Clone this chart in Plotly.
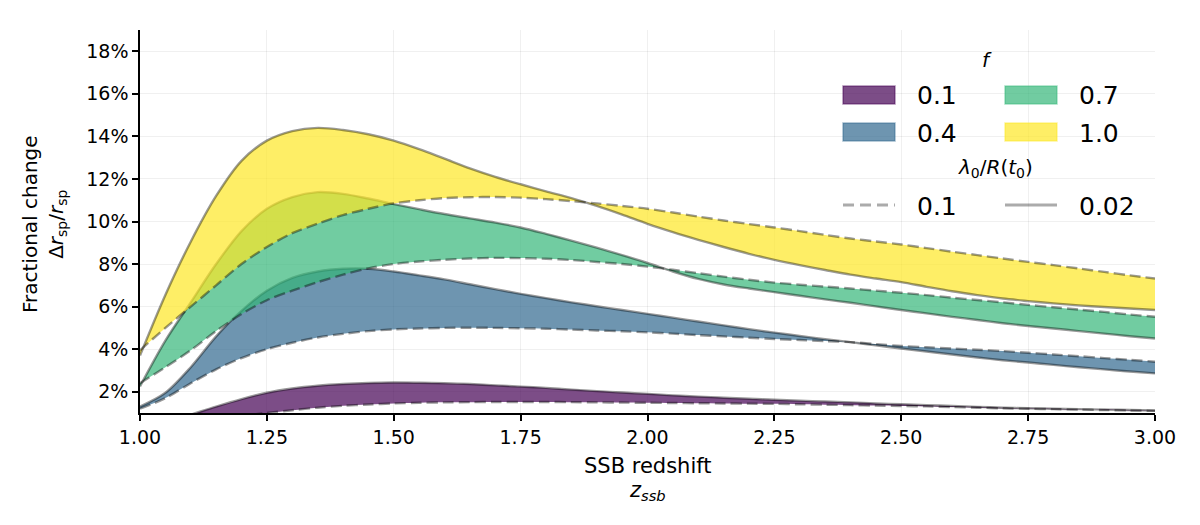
import plotly.graph_objects as go

# ---------------- data (percent) ----------------
z_ssb = [1.0, 1.05, 1.1, 1.15, 1.2, 1.25, 1.3, 1.35, 1.4, 1.45, 1.5, 1.55, 1.6, 1.65, 1.7,
         1.75, 1.8, 1.85, 1.9, 1.95, 2.0, 2.05, 2.1, 2.15, 2.2, 2.25, 2.3, 2.35, 2.4, 2.45,
         2.5, 2.55, 2.6, 2.65, 2.7, 2.75, 2.8, 2.85, 2.9, 2.95, 3.0]

f_values = ["0.1", "0.4", "0.7", "1.0"]

# lambda0/R(t0) = 0.1 (dashed)
f01_lam01 = [0.3, 0.45, 0.6, 0.73, 0.87, 1.0, 1.13, 1.25, 1.34, 1.4, 1.45, 1.48, 1.5, 1.51, 1.52,
             1.52, 1.52, 1.51, 1.5, 1.49, 1.48, 1.47, 1.46, 1.45, 1.44, 1.43, 1.41, 1.39, 1.37, 1.35,
             1.33, 1.31, 1.28, 1.25, 1.22, 1.2, 1.18, 1.16, 1.14, 1.12, 1.1]
f04_lam01 = [1.2, 1.7, 2.4, 3.05, 3.58, 4.0, 4.3, 4.55, 4.72, 4.85, 4.93, 4.97, 5.0, 5.01, 5.0,
             4.98, 4.96, 4.92, 4.88, 4.84, 4.79, 4.73, 4.66, 4.6, 4.54, 4.48, 4.43, 4.38, 4.33, 4.24,
             4.15, 4.09, 4.03, 3.97, 3.91, 3.83, 3.75, 3.67, 3.58, 3.5, 3.41]
f07_lam01 = [2.4, 3.15, 3.95, 4.85, 5.65, 6.3, 6.75, 7.15, 7.5, 7.8, 8.0, 8.12, 8.2, 8.26, 8.29,
             8.28, 8.25, 8.19, 8.1, 8.0, 7.88, 7.73, 7.57, 7.41, 7.26, 7.13, 7.03, 6.94, 6.85, 6.75,
             6.65, 6.54, 6.42, 6.31, 6.2, 6.08, 5.97, 5.86, 5.75, 5.63, 5.52]
f10_lam01 = [3.95, 5.0, 6.0, 7.0, 8.0, 8.8, 9.45, 9.9, 10.3, 10.6, 10.85, 11.0, 11.1, 11.14, 11.15,
             11.12, 11.05, 10.96, 10.85, 10.73, 10.6, 10.42, 10.23, 10.05, 9.88, 9.72, 9.55, 9.37, 9.2, 9.06,
             8.92, 8.75, 8.58, 8.42, 8.26, 8.1, 7.95, 7.79, 7.63, 7.47, 7.32]

# lambda0/R(t0) = 0.02 (solid)
f01_lam002 = [0.2, 0.55, 0.92, 1.3, 1.65, 1.95, 2.15, 2.28, 2.36, 2.41, 2.43, 2.42, 2.4, 2.36, 2.3,
              2.24, 2.18, 2.1, 2.03, 1.96, 1.9, 1.83, 1.77, 1.72, 1.67, 1.62, 1.58, 1.54, 1.5, 1.45,
              1.41, 1.37, 1.33, 1.29, 1.25, 1.22, 1.2, 1.18, 1.16, 1.14, 1.12]
f04_lam002 = [1.3, 1.95, 3.15, 4.6, 5.8, 6.75, 7.35, 7.65, 7.78, 7.78, 7.65, 7.47, 7.28, 7.05, 6.82,
              6.6, 6.4, 6.2, 6.02, 5.84, 5.66, 5.48, 5.3, 5.12, 4.94, 4.78, 4.62, 4.47, 4.33, 4.18,
              4.03, 3.89, 3.75, 3.61, 3.48, 3.37, 3.26, 3.15, 3.05, 2.95, 2.86]
f07_lam002 = [2.25, 4.4, 6.2, 8.0, 9.55, 10.6, 11.15, 11.38, 11.3, 11.08, 10.82, 10.58, 10.35, 10.15, 9.95,
              9.72, 9.42, 9.1, 8.77, 8.42, 8.05, 7.65, 7.3, 7.04, 6.85, 6.68, 6.51, 6.34, 6.18, 6.01,
              5.84, 5.68, 5.52, 5.37, 5.22, 5.09, 4.97, 4.85, 4.73, 4.61, 4.5]
f10_lam002 = [3.7, 6.55, 9.05, 11.2, 12.85, 13.8, 14.25, 14.4, 14.3, 14.1, 13.8, 13.4, 12.95, 12.5, 12.1,
              11.75, 11.42, 11.1, 10.73, 10.32, 9.89, 9.5, 9.14, 8.8, 8.48, 8.2, 7.95, 7.72, 7.5, 7.32,
              7.15, 6.93, 6.72, 6.54, 6.38, 6.26, 6.15, 6.06, 5.98, 5.91, 5.84]

lam_labels = ["0.1", "0.02"]
x_ticks = [1.0, 1.25, 1.5, 1.75, 2.0, 2.25, 2.5, 2.75, 3.0]
y_ticks = [2, 4, 6, 8, 10, 12, 14, 16, 18]
y_tick_labels = ["2%", "4%", "6%", "8%", "10%", "12%", "14%", "16%", "18%"]

# ---------------- style ----------------
FONT = "DejaVu Sans"
viridis4 = [(68, 1, 84), (49, 104, 142), (53, 183, 121), (253, 231, 37)]
FILL_A = 0.7
LINE_COL = "rgba(0,0,0,0.40)"
LEG_LINE_COL = "rgba(0,0,0,0.33)"

dashed_sets = [f01_lam01, f04_lam01, f07_lam01, f10_lam01]
solid_sets = [f01_lam002, f04_lam002, f07_lam002, f10_lam002]

W, H = 1200, 525
ML, MR, MT, MB = 140, 45, 30, 112
PW, PH = W - ML - MR, H - MT - MB


def px2x(px):
    return (px - ML) / PW


def py2y(py):
    return (H - MB - py) / PH


def rgba(c, a):
    return "rgba(%d,%d,%d,%.2f)" % (c[0], c[1], c[2], a)


fig = go.Figure()

for col, d, s in zip(viridis4, dashed_sets, solid_sets):
    fig.add_trace(go.Scatter(
        x=z_ssb, y=d, mode="lines",
        line=dict(color=LINE_COL, width=2.4, dash="11px,5px", shape="spline", smoothing=0.9),
        showlegend=False, hoverinfo="skip"))
    fig.add_trace(go.Scatter(
        x=z_ssb, y=s, mode="lines", fill="tonexty", fillcolor=rgba(col, FILL_A),
        line=dict(color=LINE_COL, width=2.4, shape="spline", smoothing=0.9),
        showlegend=False, hoverinfo="skip"))

shapes = []
annotations = []

# ---- manual legend ----
legend_font = dict(family=FONT, size=25, color="black")
annotations.append(dict(x=px2x(987), y=py2y(60), xref="paper", yref="paper", text="<i>f</i>",
                        showarrow=False, font=dict(family=FONT, size=20, color="black"),
                        xanchor="center", yanchor="middle"))
swatch_pos = [(843, 95), (843, 132), (1005, 95), (1005, 132)]
label_dx = 72
for (sx, sy), col, lab in zip(swatch_pos, viridis4, f_values):
    shapes.append(dict(type="rect", xref="paper", yref="paper",
                       x0=px2x(sx), x1=px2x(sx + 52), y0=py2y(sy - 9), y1=py2y(sy + 9),
                       fillcolor=rgba(col, FILL_A), line=dict(color=rgba(col, 0.45), width=1.5)))
    annotations.append(dict(x=px2x(sx + label_dx), y=py2y(sy + 1), xref="paper", yref="paper",
                            text=lab, showarrow=False, font=legend_font,
                            xanchor="left", yanchor="middle"))

annotations.append(dict(x=px2x(995), y=py2y(168), xref="paper", yref="paper",
                        text="<i>λ</i><sub>0</sub>/<i>R</i>(<i>t</i><sub>0</sub>)",
                        showarrow=False, font=dict(family=FONT, size=20, color="black"),
                        xanchor="center", yanchor="middle"))
line_pos = [(843, 205, "dash"), (1005, 205, "solid")]
for (lx, ly, dsh), lab in zip(line_pos, lam_labels):
    shapes.append(dict(type="line", xref="paper", yref="paper",
                       x0=px2x(lx), x1=px2x(lx + 52), y0=py2y(ly), y1=py2y(ly),
                       line=dict(color=LEG_LINE_COL, width=3, dash=("11px,6px" if dsh == "dash" else "solid"))))
    annotations.append(dict(x=px2x(lx + label_dx), y=py2y(ly + 1), xref="paper", yref="paper",
                            text=lab, showarrow=False, font=legend_font,
                            xanchor="left", yanchor="middle"))

# ---- axis titles ----
annotations.append(dict(x=0.5, y=py2y(466), xref="paper", yref="paper", text="SSB redshift",
                        showarrow=False, font=dict(family=FONT, size=21, color="black"),
                        xanchor="center", yanchor="middle"))
annotations.append(dict(x=0.5, y=py2y(491), xref="paper", yref="paper",
                        text="<i>z</i><sub><i>ssb</i></sub>",
                        showarrow=False, font=dict(family=FONT, size=21, color="black"),
                        xanchor="center", yanchor="middle"))
annotations.append(dict(x=px2x(44), y=py2y(224), xref="paper", yref="paper",
                        text="Fractional change<br>Δ<i>r</i><sub>sp</sub>/<i>r</i><sub>sp</sub>",
                        textangle=-90, showarrow=False,
                        font=dict(family=FONT, size=20, color="black"),
                        xanchor="center", yanchor="middle"))

fig.update_layout(
    width=W, height=H,
    margin=dict(l=ML, r=MR, t=MT, b=MB),
    paper_bgcolor="white", plot_bgcolor="white",
    font=dict(family=FONT, size=20, color="black"),
    showlegend=False,
    shapes=shapes, annotations=annotations,
)
fig.update_xaxes(range=[1.0, 3.0], tickmode="array", tickvals=x_ticks, tickformat=".2f",
                 showline=True, linecolor="black", linewidth=1.5, mirror=False,
                 ticks="outside", ticklen=6, tickwidth=1.5, tickcolor="black",
                 showgrid=True, gridcolor="rgba(0,0,0,0.06)", gridwidth=1, zeroline=False,
                 tickfont=dict(family=FONT, size=19))
fig.update_yaxes(range=[1.0, 19.0], tickmode="array", tickvals=y_ticks, ticktext=y_tick_labels,
                 showline=True, linecolor="black", linewidth=1.5, mirror=False,
                 ticks="outside", ticklen=6, tickwidth=1.5, tickcolor="black",
                 showgrid=True, gridcolor="rgba(0,0,0,0.06)", gridwidth=1, zeroline=False,
                 tickfont=dict(family=FONT, size=19))

fig.write_html("out.html")
